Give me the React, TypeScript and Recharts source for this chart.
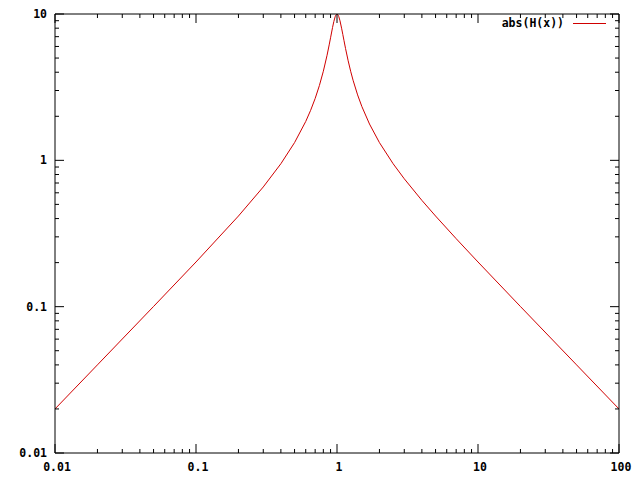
import React from 'react';
import { LineChart, Line, XAxis, YAxis, Legend } from 'recharts';

const xValues = [0.01, 0.02, 0.05, 0.1, 0.2, 0.3, 0.4, 0.5, 0.6, 0.65, 0.7, 0.75, 0.8, 0.85, 0.88, 0.9, 0.93, 0.95, 0.97, 0.98, 0.99, 1.0, 1.01, 1.02, 1.03, 1.05, 1.08, 1.1, 1.12, 1.15, 1.2, 1.25, 1.3, 1.4, 1.5, 1.7, 2, 2.5, 3, 4, 5, 7, 10, 20, 50, 100];
const yValues = [0.0200, 0.04002, 0.1003, 0.20198, 0.41631, 0.65791, 0.94809, 1.3216, 1.8429, 2.1961, 2.6472, 3.2432, 4.0614, 5.2239, 6.1511, 6.8773, 8.0909, 8.897, 9.5661, 9.802, 9.9499, 10, 9.9507, 9.8096, 9.5896, 8.9867, 7.9219, 7.2335, 6.6084, 5.8063, 4.7885, 4.0614, 3.5261, 2.8, 2.3337, 1.7705, 1.3216, 0.94809, 0.7479, 0.53258, 0.41631, 0.29154, 0.20198, 0.10025, 0.040016, 0.0200];

const xTicks = [0.01, 0.02, 0.03, 0.04, 0.05, 0.06, 0.07, 0.08, 0.09, 0.1, 0.2, 0.3, 0.4, 0.5, 0.6, 0.7, 0.8, 0.9, 1, 2, 3, 4, 5, 6, 7, 8, 9, 10, 20, 30, 40, 50, 60, 70, 80, 90, 100];
const yTicks = [0.01, 0.02, 0.03, 0.04, 0.05, 0.06, 0.07, 0.08, 0.09, 0.1, 0.2, 0.3, 0.4, 0.5, 0.6, 0.7, 0.8, 0.9, 1, 2, 3, 4, 5, 6, 7, 8, 9, 10];
const majorLabels: Record<string, string> = { '0.01': '0.01', '0.1': '0.1', '1': '1', '10': '10', '100': '100' };
const seriesName = 'abs(H(x))';

const data = xValues.map((x, i) => ({ x, y: yValues[i] }));

const FONT = '"DejaVu Sans Mono", monospace';
const RED = '#d00000';

const isMajor = (v: number) => majorLabels[String(v)] !== undefined;

const makeTick = (side: 'bottom' | 'top' | 'left' | 'right') => (props: any) => {
  const { x, y, payload } = props;
  const v = payload.value;
  const major = isMajor(v);
  const len = major ? 9 : 4;
  let line;
  let label = null;
  if (side === 'bottom') {
    line = <line x1={x} y1={y} x2={x} y2={y - len} stroke="#000" />;
    if (major) label = <text x={x + 2} y={y + 18} textAnchor="middle" fontFamily={FONT} fontWeight="bold" fontSize={11.5}>{majorLabels[String(v)]}</text>;
  } else if (side === 'top') {
    line = <line x1={x} y1={y} x2={x} y2={y + len} stroke="#000" />;
  } else if (side === 'left') {
    line = <line x1={x} y1={y} x2={x + len} y2={y} stroke="#000" />;
    if (major) label = <text x={x - 8} y={y + 4} textAnchor="end" fontFamily={FONT} fontWeight="bold" fontSize={11.5}>{majorLabels[String(v)]}</text>;
  } else {
    line = <line x1={x} y1={y} x2={x - len} y2={y} stroke="#000" />;
  }
  return <g>{line}{label}</g>;
};

const LegendContent = () => (
  <div style={{ position: 'relative', width: 640, height: 0, overflow: 'visible' }}>
    <svg width={640} height={40} style={{ position: 'absolute', left: 0, top: 0, overflow: 'visible' }}>
      <text x={564} y={27} textAnchor="end" fontFamily={FONT} fontWeight="bold" fontSize={11.5}>{seriesName}</text>
      <line x1={573} y1={23.5} x2={606} y2={23.5} stroke={RED} strokeWidth={1} />
    </svg>
  </div>
);

export default function App() {
  return (
    <div style={{ position: 'absolute', left: 0, top: 0, width: 640, height: 480, background: '#fff' }}>
      <LineChart width={640} height={480} data={data} margin={{ top: 0, right: 0, bottom: 0, left: 0 }}>
        <XAxis xAxisId="b" dataKey="x" type="number" scale="log" domain={[0.01, 100]} allowDataOverflow ticks={xTicks} interval={0} orientation="bottom" height={27} tickSize={0} tickMargin={0} tickLine={false} tick={makeTick('bottom')} axisLine={{ stroke: '#000' }} />
        <XAxis xAxisId="t" dataKey="x" type="number" scale="log" domain={[0.01, 100]} allowDataOverflow ticks={xTicks} interval={0} orientation="top" height={14} tickSize={0} tickMargin={0} tickLine={false} tick={makeTick('top')} axisLine={{ stroke: '#000' }} />
        <YAxis yAxisId="l" type="number" scale="log" domain={[0.01, 10]} allowDataOverflow ticks={yTicks} interval={0} orientation="left" width={55} tickSize={0} tickMargin={0} tickLine={false} tick={makeTick('left')} axisLine={{ stroke: '#000' }} />
        <YAxis yAxisId="r" type="number" scale="log" domain={[0.01, 10]} allowDataOverflow ticks={yTicks} interval={0} orientation="right" width={21} tickSize={0} tickMargin={0} tickLine={false} tick={makeTick('right')} axisLine={{ stroke: '#000' }} />
        <Legend content={LegendContent} verticalAlign="top" wrapperStyle={{ position: 'absolute', left: 0, top: 0, width: 640, height: 0 }} />
        <Line xAxisId="b" yAxisId="l" type="linear" dataKey="y" name={seriesName} stroke={RED} strokeWidth={1} dot={false} isAnimationActive={false} />
      </LineChart>
    </div>
  );
}
